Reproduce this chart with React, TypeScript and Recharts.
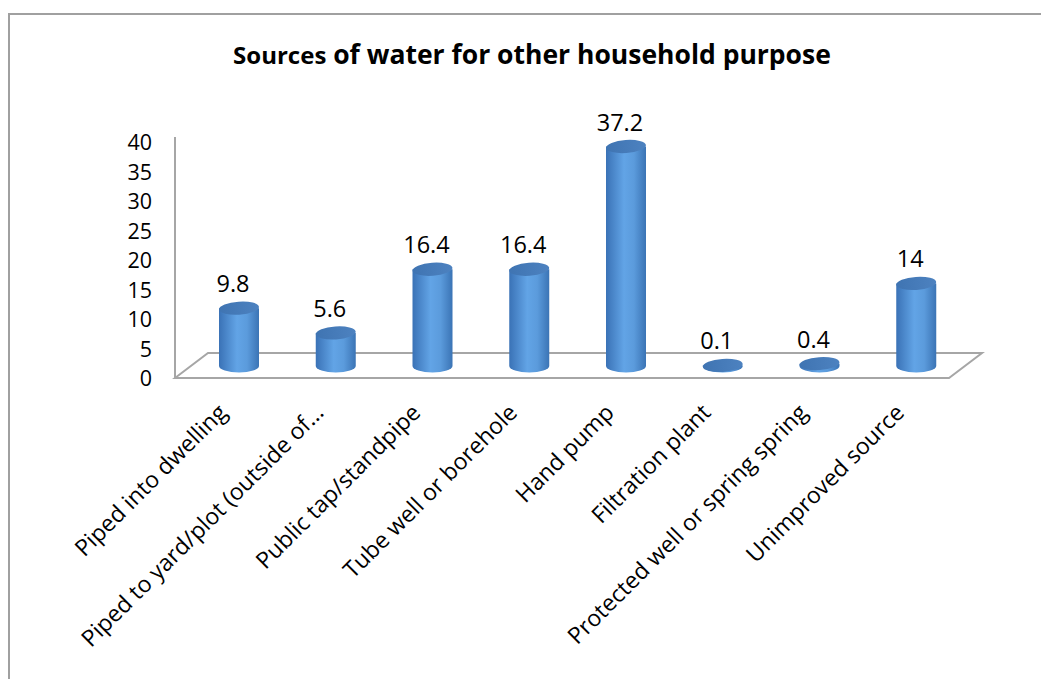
import React from "react"
import { Bar, BarChart, LabelList, XAxis, YAxis, usePlotArea } from "recharts"

const categories = [
  "Piped into dwelling",
  "Piped to yard/plot (outside of...",
  "Public tap/standpipe",
  "Tube well or borehole",
  "Hand pump",
  "Filtration plant",
  "Protected well or spring spring",
  "Unimproved source",
]
const values = [9.8, 5.6, 16.4, 16.4, 37.2, 0.1, 0.4, 14]
const yTicks = [0, 5, 10, 15, 20, 25, 30, 35, 40]

const data = categories.map((name, i) => ({ name, value: values[i] }))

const FONT = "'Open Sans', 'Noto Sans', sans-serif"
const FRAME = "#a6a6a6"
// 3D floor: front edge sits below the bar bases, back edge above
const FRONT = 12
const BACK = 13
const SIDE = 16

function Frame() {
  const area = usePlotArea()
  if (!area) return null
  const { x, y, width, height } = area
  const by = y + height
  const fl = x - SIDE
  const fr = x + width - SIDE
  const bl = x + SIDE + 1
  const br = x + width + SIDE + 1
  return (
    <g stroke={FRAME} strokeWidth={2} fill="none">
      <line x1={fl} y1={y + 7} x2={fl} y2={by + FRONT} />
      <path
        d={`M ${fl} ${by + FRONT} L ${bl} ${by - BACK} L ${br} ${by - BACK} L ${fr} ${by + FRONT} Z`}
      />
    </g>
  )
}

function Cylinder(props: any) {
  const { x, y, width, height } = props
  const rx = width / 2
  const ry = 6.5
  const cx = x + rx
  const ty = y
  const by = y + height
  return (
    <g>
      <path
        d={`M ${x} ${ty} L ${x} ${by} A ${rx} ${ry} 0 0 0 ${x + width} ${by} L ${x + width} ${ty} Z`}
        fill="url(#cylBody)"
      />
      <ellipse
        cx={cx}
        cy={ty}
        rx={rx}
        ry={ry}
        fill="url(#cylTop)"
        transform={`rotate(-4 ${cx} ${ty})`}
      />
    </g>
  )
}

function ValueLabel(props: any) {
  const { x, y, width, value } = props
  return (
    <text
      x={x + width / 2 - 6}
      y={y - 16}
      textAnchor="middle"
      fontFamily={FONT}
      fontSize={23.5}
      fill="#000"
    >
      {value}
    </text>
  )
}

function XTick(props: any) {
  const { x, y, payload } = props
  const ax = x - 11
  const ay = y + 40
  return (
    <text
      x={ax}
      y={ay}
      textAnchor="end"
      transform={`rotate(-45 ${ax} ${ay})`}
      fontFamily={FONT}
      fontSize={23}
      fill="#000"
    >
      {payload.value}
    </text>
  )
}

function YTick(props: any) {
  const { x, y, payload } = props
  return (
    <text
      x={x}
      y={y + FRONT}
      dy={8}
      textAnchor="end"
      fontFamily={FONT}
      fontSize={21.5}
      fill="#000"
    >
      {payload.value}
    </text>
  )
}

export default function App() {
  return (
    <div>
      <div
        style={{
          position: "fixed",
          left: 8,
          top: 13,
          width: 1041,
          height: 679,
          borderLeft: "2px solid #a0a0a0",
          borderTop: "2px solid #a0a0a0",
          background: "#fff",
        }}
      />
      <div style={{ position: "fixed", left: 0, top: 0 }}>
        <svg width={1041} height={679} style={{ position: "absolute", left: 0, top: 0 }}>
          <text
            x={532}
            y={64}
            textAnchor="middle"
            fontFamily={FONT}
            fontWeight="bold"
            fontSize={26.5}
            fill="#000"
          >
            <tspan fontSize={24}>Sources</tspan> of water for other household purpose
          </text>
        </svg>
        <BarChart
          width={1041}
          height={679}
          data={data}
          margin={{ top: 130, right: 76, bottom: 283, left: 131 }}
        >
          <defs>
            <linearGradient id="cylBody" x1="0" y1="0" x2="1" y2="0">
              <stop offset="0%" stopColor="#3a72b6" />
              <stop offset="45%" stopColor="#62a4e6" />
              <stop offset="70%" stopColor="#5b9bdc" />
              <stop offset="100%" stopColor="#3b74b5" />
            </linearGradient>
            <linearGradient id="cylTop" x1="0" y1="0" x2="1" y2="0">
              <stop offset="0%" stopColor="#3f74b2" />
              <stop offset="100%" stopColor="#4d82c0" />
            </linearGradient>
          </defs>
          <Frame />
          <XAxis
            dataKey="name"
            axisLine={false}
            tickLine={false}
            height={30}
            interval={0}
            tick={<XTick />}
          />
          <YAxis
            domain={[0, 40]}
            ticks={yTicks}
            axisLine={false}
            tickLine={false}
            width={60}
            tickSize={6}
            tickMargin={33}
            tick={<YTick />}
          />
          <Bar dataKey="value" barSize={40} shape={<Cylinder />} isAnimationActive={false}>
            <LabelList dataKey="value" content={<ValueLabel />} />
          </Bar>
        </BarChart>
      </div>
    </div>
  )
}
